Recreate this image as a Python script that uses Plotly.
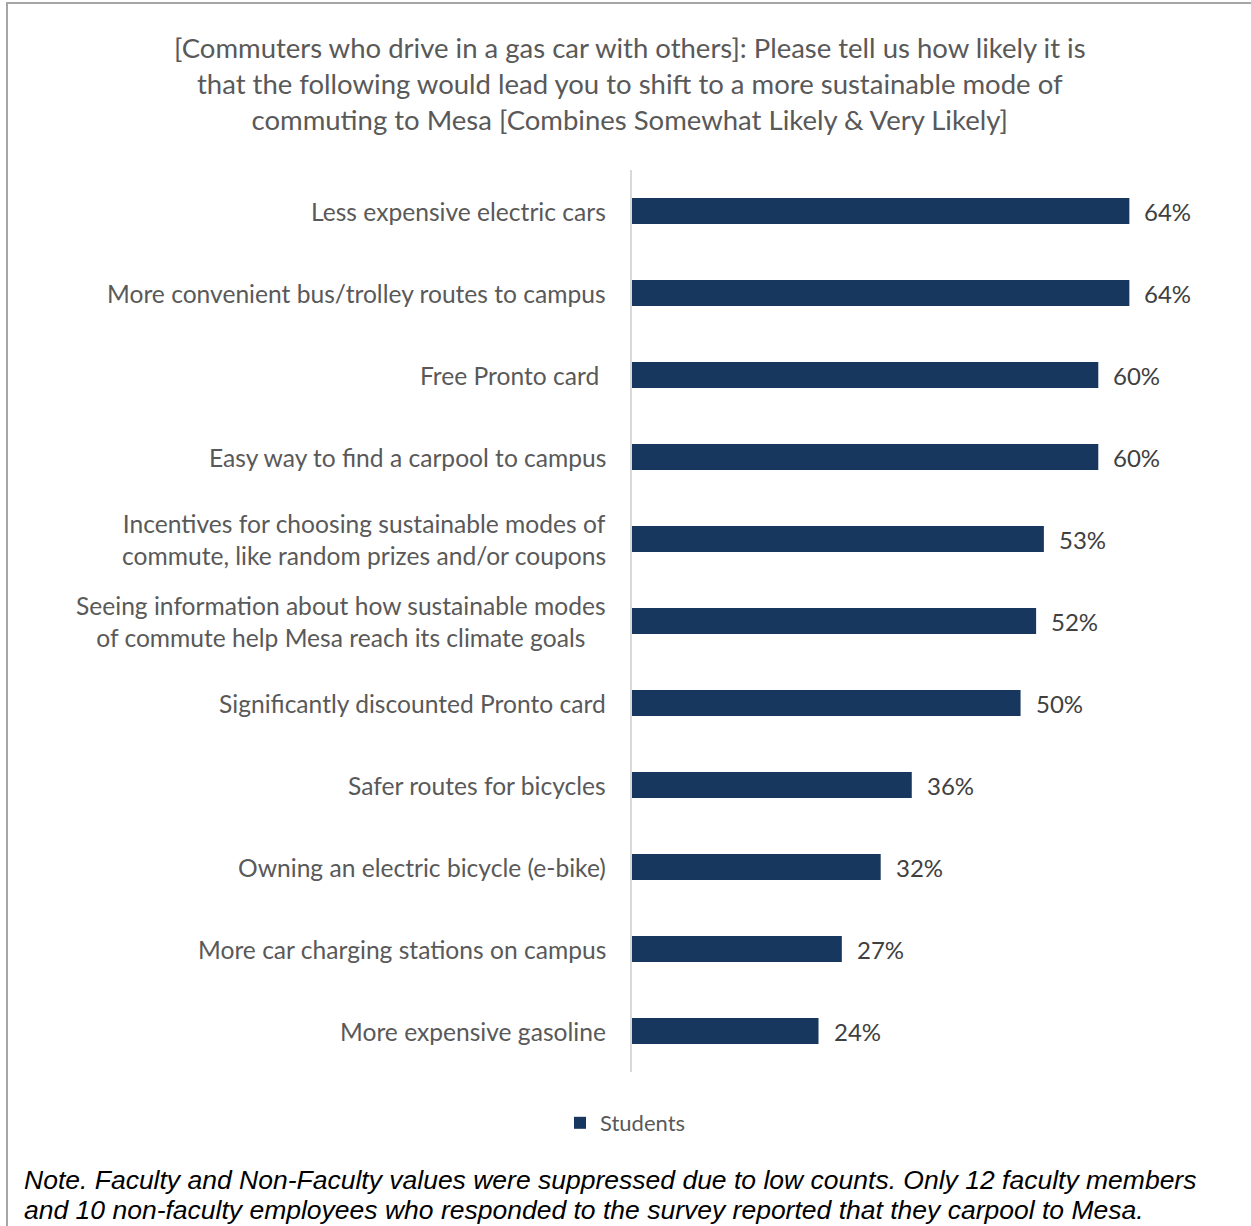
import plotly.graph_objects as go

# Survey items (top to bottom) and share of students answering Somewhat/Very Likely
categories = [
    "Less expensive electric cars",
    "More convenient bus/trolley routes to campus",
    "Free Pronto card ",
    "Easy way to find a carpool to campus",
    "Incentives for choosing sustainable modes of<br>commute, like random prizes and/or coupons",
    "Seeing information about how sustainable modes<br>of commute help Mesa reach its climate goals",
    "Significantly discounted Pronto card",
    "Safer routes for bicycles",
    "Owning an electric bicycle (e-bike)",
    "More car charging stations on campus",
    "More expensive gasoline",
]
students = [64, 64, 60, 60, 53, 52, 50, 36, 32, 27, 24]
series_name = "Students"

title_text = (
    "[Commuters who drive in a gas car with others]: Please tell us how likely it is<br>"
    "that the following would lead you to shift to a more sustainable mode of<br>"
    "commuting to Mesa [Combines Somewhat Likely & Very Likely]"
)
note_lines = [
    "Note. Faculty and Non-Faculty values were suppressed due to low counts. Only 12 faculty members",
    "and 10 non-faculty employees who responded to the survey reported that they carpool to Mesa.",
]

W, H = 1251, 1226
L, R, T, B = 632, 75, 170, 154
PW, PH = W - L - R, H - T - B


def px_x(px):
    return (px - L) / PW


def px_y(py):
    return (H - B - py) / PH


BAR = "#17375e"
GREY = "#595959"
FONT = "Lato"

fig = go.Figure()
fig.add_trace(go.Bar(
    x=students,
    y=categories,
    orientation="h",
    name=series_name,
    marker=dict(color=BAR, line=dict(width=0)),
    showlegend=True,
))

# category labels (centered lines, right edge near the axis)
for c in categories:
    fig.add_annotation(
        x=0, y=c, xref="x", yref="y", text=c, showarrow=False,
        xanchor="right", yanchor="middle", align="center", xshift=-24,
        font=dict(family=FONT, size=24.6, color=GREY),
    )

# value labels
for c, v in zip(categories, students):
    fig.add_annotation(
        x=v, y=c, xref="x", yref="y", text=f"{v}%", showarrow=False,
        xanchor="left", yanchor="middle", xshift=13,
        font=dict(family=FONT, size=24, color="#404040"),
    )

# title
fig.add_annotation(
    x=px_x(630), y=px_y(83), xref="paper", yref="paper", text=title_text,
    showarrow=False, xanchor="center", yanchor="middle", align="center",
    font=dict(family=FONT, size=27.5, color=GREY),
)

# footnote, one annotation per line
for line, py in zip(note_lines, [1180, 1210]):
    fig.add_annotation(
        x=px_x(22), y=px_y(py), xref="paper", yref="paper", text=line,
        showarrow=False, xanchor="left", yanchor="middle", align="left",
        font=dict(family="Liberation Sans", size=26.5, color="#000000", style="italic"),
    )

# chart frame
fig.add_shape(
    type="rect", xref="paper", yref="paper",
    x0=px_x(7), x1=px_x(1300), y0=px_y(3), y1=px_y(1300),
    line=dict(color="#a6a6a6", width=2), fillcolor="rgba(0,0,0,0)", layer="below",
)

fig.update_layout(
    width=W, height=H,
    margin=dict(l=L, r=R, t=T, b=B),
    paper_bgcolor="white", plot_bgcolor="white",
    bargap=0.683,
    font=dict(family=FONT, color=GREY),
    xaxis=dict(range=[0, 70], showticklabels=False, showgrid=False,
               zeroline=False, showline=False, ticks=""),
    yaxis=dict(range=[10.5, -0.5], showticklabels=False, showgrid=False,
               zeroline=False, showline=True, linecolor="#d9d9d9", linewidth=2,
               ticks=""),
    legend=dict(orientation="h", xref="container", x=0.5, xanchor="center",
                yref="container", y=(H - 1123) / H, yanchor="middle",
                font=dict(family=FONT, size=22, color=GREY)),
)

fig.write_html("out.html")
